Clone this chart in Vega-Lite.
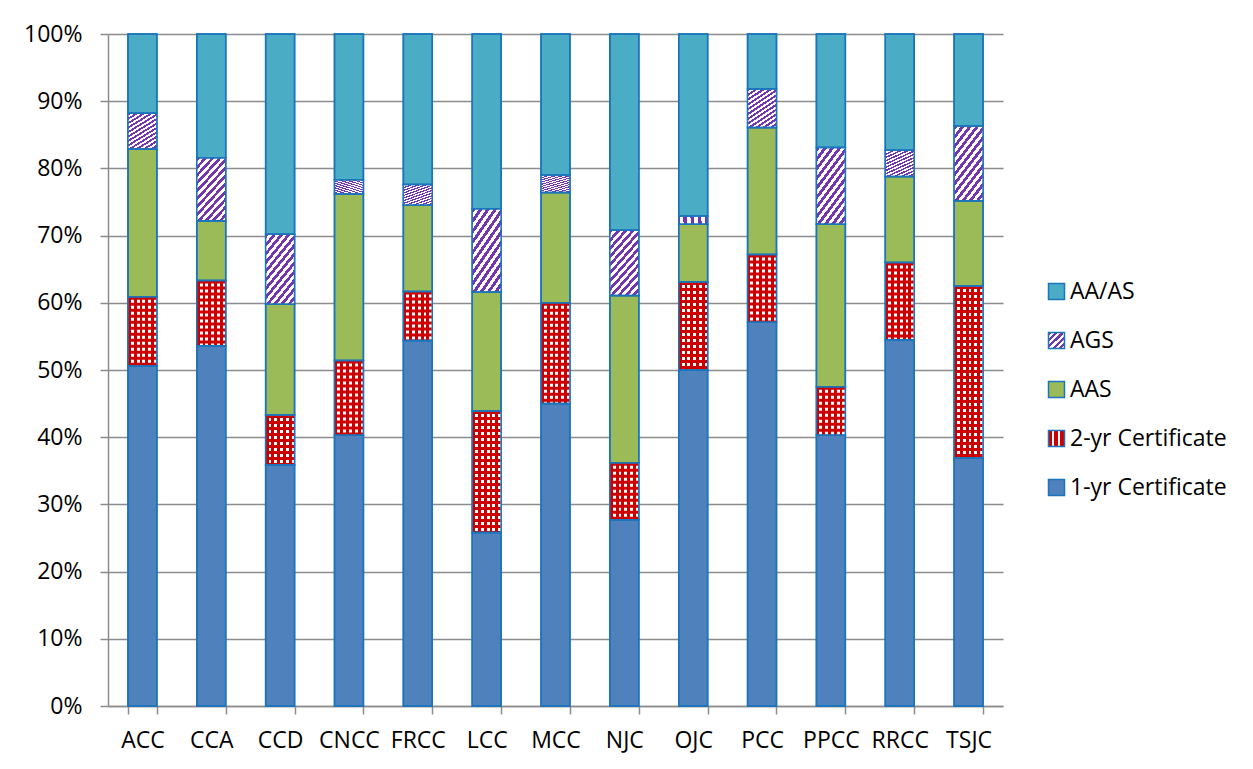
{
  "$schema": "https://vega.github.io/schema/vega-lite/v6.json",
  "width": 895,
  "height": 672,
  "autosize": {"type": "none"},
  "padding": {"left": 108, "top": 34, "right": 250, "bottom": 63},
  "background": "white",
  "config": {
    "font": "Open Sans",
    "view": {"stroke": null},
    "axis": {"labelFont": "Open Sans", "labelColor": "#000000", "labelFontSize": 23}
  },
  "data": {
    "values": [
      {"college": "ACC", "series": "1-yr Certificate", "k": 1, "value": 50.6},
      {"college": "ACC", "series": "2-yr Certificate", "k": 2, "value": 10.3},
      {"college": "ACC", "series": "AAS", "k": 3, "value": 22.0},
      {"college": "ACC", "series": "AGS", "k": 4, "value": 5.3},
      {"college": "ACC", "series": "AA/AS", "k": 5, "value": 11.8},
      {"college": "CCA", "series": "1-yr Certificate", "k": 1, "value": 53.6},
      {"college": "CCA", "series": "2-yr Certificate", "k": 2, "value": 9.7},
      {"college": "CCA", "series": "AAS", "k": 3, "value": 8.9},
      {"college": "CCA", "series": "AGS", "k": 4, "value": 9.4},
      {"college": "CCA", "series": "AA/AS", "k": 5, "value": 18.4},
      {"college": "CCD", "series": "1-yr Certificate", "k": 1, "value": 35.9},
      {"college": "CCD", "series": "2-yr Certificate", "k": 2, "value": 7.4},
      {"college": "CCD", "series": "AAS", "k": 3, "value": 16.5},
      {"college": "CCD", "series": "AGS", "k": 4, "value": 10.4},
      {"college": "CCD", "series": "AA/AS", "k": 5, "value": 29.8},
      {"college": "CNCC", "series": "1-yr Certificate", "k": 1, "value": 40.3},
      {"college": "CNCC", "series": "2-yr Certificate", "k": 2, "value": 11.1},
      {"college": "CNCC", "series": "AAS", "k": 3, "value": 24.8},
      {"college": "CNCC", "series": "AGS", "k": 4, "value": 2.1},
      {"college": "CNCC", "series": "AA/AS", "k": 5, "value": 21.7},
      {"college": "FRCC", "series": "1-yr Certificate", "k": 1, "value": 54.4},
      {"college": "FRCC", "series": "2-yr Certificate", "k": 2, "value": 7.3},
      {"college": "FRCC", "series": "AAS", "k": 3, "value": 12.8},
      {"college": "FRCC", "series": "AGS", "k": 4, "value": 3.1},
      {"college": "FRCC", "series": "AA/AS", "k": 5, "value": 22.4},
      {"college": "LCC", "series": "1-yr Certificate", "k": 1, "value": 25.8},
      {"college": "LCC", "series": "2-yr Certificate", "k": 2, "value": 18.1},
      {"college": "LCC", "series": "AAS", "k": 3, "value": 17.7},
      {"college": "LCC", "series": "AGS", "k": 4, "value": 12.4},
      {"college": "LCC", "series": "AA/AS", "k": 5, "value": 26.0},
      {"college": "MCC", "series": "1-yr Certificate", "k": 1, "value": 45.0},
      {"college": "MCC", "series": "2-yr Certificate", "k": 2, "value": 15.0},
      {"college": "MCC", "series": "AAS", "k": 3, "value": 16.4},
      {"college": "MCC", "series": "AGS", "k": 4, "value": 2.6},
      {"college": "MCC", "series": "AA/AS", "k": 5, "value": 21.0},
      {"college": "NJC", "series": "1-yr Certificate", "k": 1, "value": 27.7},
      {"college": "NJC", "series": "2-yr Certificate", "k": 2, "value": 8.5},
      {"college": "NJC", "series": "AAS", "k": 3, "value": 24.9},
      {"college": "NJC", "series": "AGS", "k": 4, "value": 9.7},
      {"college": "NJC", "series": "AA/AS", "k": 5, "value": 29.2},
      {"college": "OJC", "series": "1-yr Certificate", "k": 1, "value": 50.0},
      {"college": "OJC", "series": "2-yr Certificate", "k": 2, "value": 13.1},
      {"college": "OJC", "series": "AAS", "k": 3, "value": 8.6},
      {"college": "OJC", "series": "AGS", "k": 4, "value": 1.2},
      {"college": "OJC", "series": "AA/AS", "k": 5, "value": 27.1},
      {"college": "PCC", "series": "1-yr Certificate", "k": 1, "value": 57.1},
      {"college": "PCC", "series": "2-yr Certificate", "k": 2, "value": 10.1},
      {"college": "PCC", "series": "AAS", "k": 3, "value": 18.9},
      {"college": "PCC", "series": "AGS", "k": 4, "value": 5.7},
      {"college": "PCC", "series": "AA/AS", "k": 5, "value": 8.2},
      {"college": "PPCC", "series": "1-yr Certificate", "k": 1, "value": 40.3},
      {"college": "PPCC", "series": "2-yr Certificate", "k": 2, "value": 7.2},
      {"college": "PPCC", "series": "AAS", "k": 3, "value": 24.2},
      {"college": "PPCC", "series": "AGS", "k": 4, "value": 11.4},
      {"college": "PPCC", "series": "AA/AS", "k": 5, "value": 16.9},
      {"college": "RRCC", "series": "1-yr Certificate", "k": 1, "value": 54.5},
      {"college": "RRCC", "series": "2-yr Certificate", "k": 2, "value": 11.5},
      {"college": "RRCC", "series": "AAS", "k": 3, "value": 12.8},
      {"college": "RRCC", "series": "AGS", "k": 4, "value": 3.9},
      {"college": "RRCC", "series": "AA/AS", "k": 5, "value": 17.3},
      {"college": "TSJC", "series": "1-yr Certificate", "k": 1, "value": 36.9},
      {"college": "TSJC", "series": "2-yr Certificate", "k": 2, "value": 25.6},
      {"college": "TSJC", "series": "AAS", "k": 3, "value": 12.7},
      {"college": "TSJC", "series": "AGS", "k": 4, "value": 11.1},
      {"college": "TSJC", "series": "AA/AS", "k": 5, "value": 13.7}
    ]
  },
  "transform": [
    {"stack": "value", "groupby": ["college"], "sort": [{"field": "k", "order": "ascending"}], "as": ["y0", "y1"]}
  ],
  "encoding": {
    "x": {
      "field": "college",
      "type": "nominal",
      "sort": null,
      "scale": {"paddingInner": 0.58, "paddingOuter": 0.29},
      "axis": {
        "title": null,
        "labelAngle": 0,
        "tickBand": "extent",
        "tickSize": 8,
        "tickColor": "#8c8c8c",
        "tickWidth": 1.5,
        "domainColor": "#8c8c8c",
        "domainWidth": 1.5,
        "labelPadding": 15,
        "grid": false
      }
    },
    "y": {
      "field": "y1",
      "type": "quantitative",
      "scale": {"domain": [0, 100], "nice": false},
      "axis": {
        "title": null,
        "values": [0, 10, 20, 30, 40, 50, 60, 70, 80, 90, 100],
        "labelExpr": "datum.value + '%'",
        "grid": true,
        "gridColor": "#8c8c8c",
        "gridWidth": 1.5,
        "tickSize": 8,
        "tickColor": "#8c8c8c",
        "tickWidth": 1.5,
        "domainColor": "#8c8c8c",
        "domainWidth": 1.5,
        "labelPadding": 18
      }
    },
    "y2": {"field": "y0"}
  },
  "layer": [
    {
      "mark": {"type": "bar", "stroke": "#1B75BC", "strokeWidth": 1.5},
      "encoding": {
        "color": {
          "field": "series",
          "type": "nominal",
          "scale": {
            "domain": ["AA/AS", "AGS", "AAS", "2-yr Certificate", "1-yr Certificate"],
            "range": [
              "#4BACC6",
              {"expr": "{gradient: 'linear', x1: 0, y1: 0, x2: 1, y2: 1, stops: [{offset: 0, color: '#7436B0'}, {offset: 0.1, color: '#7436B0'}, {offset: 0.1, color: '#ffffff'}, {offset: 0.2, color: '#ffffff'}, {offset: 0.2, color: '#7436B0'}, {offset: 0.3, color: '#7436B0'}, {offset: 0.3, color: '#ffffff'}, {offset: 0.4, color: '#ffffff'}, {offset: 0.4, color: '#7436B0'}, {offset: 0.5, color: '#7436B0'}, {offset: 0.5, color: '#ffffff'}, {offset: 0.6, color: '#ffffff'}, {offset: 0.6, color: '#7436B0'}, {offset: 0.7, color: '#7436B0'}, {offset: 0.7, color: '#ffffff'}, {offset: 0.8, color: '#ffffff'}, {offset: 0.8, color: '#7436B0'}, {offset: 0.9, color: '#7436B0'}, {offset: 0.9, color: '#ffffff'}, {offset: 1, color: '#ffffff'}]}"},
              "#9BBB59",
              {"expr": "{gradient: 'linear', x1: 0, y1: 0, x2: 1, y2: 0, stops: [{offset: 0, color: '#CC0000'}, {offset: 0.2, color: '#CC0000'}, {offset: 0.2, color: '#ffffff'}, {offset: 0.35, color: '#ffffff'}, {offset: 0.35, color: '#CC0000'}, {offset: 0.6, color: '#CC0000'}, {offset: 0.6, color: '#ffffff'}, {offset: 0.75, color: '#ffffff'}, {offset: 0.75, color: '#CC0000'}, {offset: 1, color: '#CC0000'}]}"},
              "#4F81BD"
            ]
          },
          "legend": {
            "title": null,
            "orient": "none",
            "legendX": 937,
            "legendY": 246,
            "padding": 0,
            "symbolType": "square",
            "symbolSize": 256,
            "symbolStrokeColor": "#1B75BC",
            "symbolStrokeWidth": 1.5,
            "symbolOpacity": 1,
            "labelFont": "Open Sans",
            "labelFontSize": 23,
            "labelColor": "#000000",
            "labelOffset": 2,
            "rowPadding": 25,
            "labelLimit": 300
          }
        }
      }
    },
    {
      "transform": [{"filter": "datum.series === 'AGS'"}],
      "mark": {
        "type": "bar",
        "strokeWidth": 0,
        "fill": {
          "gradient": "linear", "x1": 0, "y1": 0, "x2": 1, "y2": 2,
          "stops": [
            {"offset": 0, "color": "#7436B0"}, {"offset": 0.025, "color": "#7436B0"}, {"offset": 0.025, "color": "#ffffff"}, {"offset": 0.05, "color": "#ffffff"},
            {"offset": 0.05, "color": "#7436B0"}, {"offset": 0.075, "color": "#7436B0"}, {"offset": 0.075, "color": "#ffffff"}, {"offset": 0.1, "color": "#ffffff"},
            {"offset": 0.1, "color": "#7436B0"}, {"offset": 0.125, "color": "#7436B0"}, {"offset": 0.125, "color": "#ffffff"}, {"offset": 0.15, "color": "#ffffff"},
            {"offset": 0.15, "color": "#7436B0"}, {"offset": 0.175, "color": "#7436B0"}, {"offset": 0.175, "color": "#ffffff"}, {"offset": 0.2, "color": "#ffffff"},
            {"offset": 0.2, "color": "#7436B0"}, {"offset": 0.225, "color": "#7436B0"}, {"offset": 0.225, "color": "#ffffff"}, {"offset": 0.25, "color": "#ffffff"},
            {"offset": 0.25, "color": "#7436B0"}, {"offset": 0.275, "color": "#7436B0"}, {"offset": 0.275, "color": "#ffffff"}, {"offset": 0.3, "color": "#ffffff"},
            {"offset": 0.3, "color": "#7436B0"}, {"offset": 0.325, "color": "#7436B0"}, {"offset": 0.325, "color": "#ffffff"}, {"offset": 0.35, "color": "#ffffff"},
            {"offset": 0.35, "color": "#7436B0"}, {"offset": 0.375, "color": "#7436B0"}, {"offset": 0.375, "color": "#ffffff"}, {"offset": 0.4, "color": "#ffffff"},
            {"offset": 0.4, "color": "#7436B0"}, {"offset": 0.425, "color": "#7436B0"}, {"offset": 0.425, "color": "#ffffff"}, {"offset": 0.45, "color": "#ffffff"},
            {"offset": 0.45, "color": "#7436B0"}, {"offset": 0.475, "color": "#7436B0"}, {"offset": 0.475, "color": "#ffffff"}, {"offset": 0.5, "color": "#ffffff"},
            {"offset": 0.5, "color": "#7436B0"}, {"offset": 0.525, "color": "#7436B0"}, {"offset": 0.525, "color": "#ffffff"}, {"offset": 0.55, "color": "#ffffff"},
            {"offset": 0.55, "color": "#7436B0"}, {"offset": 0.575, "color": "#7436B0"}, {"offset": 0.575, "color": "#ffffff"}, {"offset": 0.6, "color": "#ffffff"},
            {"offset": 0.6, "color": "#7436B0"}, {"offset": 0.625, "color": "#7436B0"}, {"offset": 0.625, "color": "#ffffff"}, {"offset": 0.65, "color": "#ffffff"}
          ]
        }
      },
      "encoding": {}
    },
    {
      "transform": [{"filter": "datum.series === '2-yr Certificate'"}],
      "mark": {
        "type": "bar",
        "strokeWidth": 0,
        "fill": {
          "gradient": "linear", "x1": 0, "y1": 0, "x2": 1, "y2": 0,
          "stops": [
            {"offset": 0, "color": "#CC0000"}, {"offset": 0.1, "color": "#CC0000"}, {"offset": 0.1, "color": "#ffffff"}, {"offset": 0.2, "color": "#ffffff"},
            {"offset": 0.2, "color": "#CC0000"}, {"offset": 0.3, "color": "#CC0000"}, {"offset": 0.3, "color": "#ffffff"}, {"offset": 0.4, "color": "#ffffff"},
            {"offset": 0.4, "color": "#CC0000"}, {"offset": 0.5, "color": "#CC0000"}, {"offset": 0.5, "color": "#ffffff"}, {"offset": 0.6, "color": "#ffffff"},
            {"offset": 0.6, "color": "#CC0000"}, {"offset": 0.7, "color": "#CC0000"}, {"offset": 0.7, "color": "#ffffff"}, {"offset": 0.8, "color": "#ffffff"},
            {"offset": 0.8, "color": "#CC0000"}, {"offset": 0.9, "color": "#CC0000"}, {"offset": 0.9, "color": "#ffffff"}, {"offset": 1, "color": "#ffffff"}
          ]
        }
      },
      "encoding": {}
    },
    {
      "transform": [{"filter": "datum.series === '2-yr Certificate'"}],
      "mark": {"type": "rule", "stroke": "#CC0000", "strokeWidth": 28, "strokeDash": [3, 3], "strokeCap": "butt"},
      "encoding": {}
    },
    {
      "mark": {"type": "bar", "fill": "transparent", "stroke": "#1B75BC", "strokeWidth": 1.5},
      "encoding": {}
    }
  ]
}
